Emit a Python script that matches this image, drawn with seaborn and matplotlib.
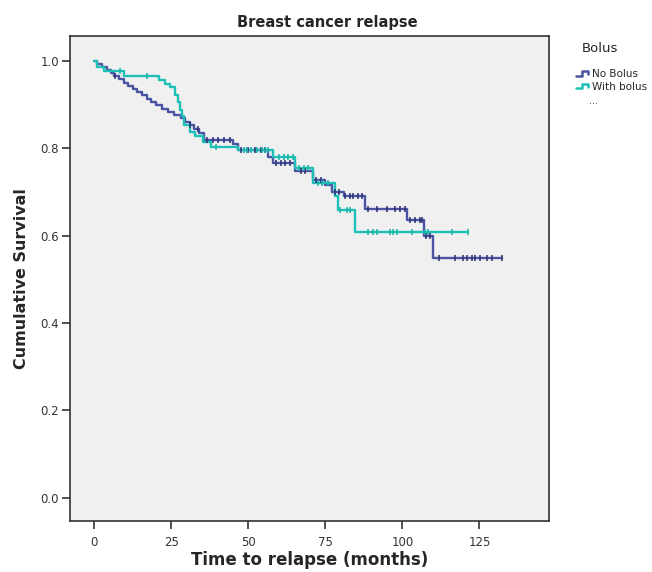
import numpy as np
import pandas as pd
import seaborn as sns
import matplotlib
matplotlib.use('Agg')
import matplotlib.pyplot as plt
from matplotlib.lines import Line2D
from matplotlib.legend_handler import HandlerBase

# Kaplan-Meier steps (time in months, survival after the step)
nb_time = [0, 1, 2.5, 4, 5.5, 6.5, 8, 9.5, 11, 12.5, 14, 15.5, 17, 18.5, 20, 22, 24, 26,
           28, 29.5, 31, 32.5, 34, 35.5, 45, 46.5, 56.4, 58, 65, 71, 75, 77, 81, 88,
           101.5, 107, 110, 132.5]
nb_surv = [1.0, 0.994, 0.987, 0.979, 0.972, 0.965, 0.958, 0.950, 0.943, 0.936, 0.929,
           0.921, 0.913, 0.906, 0.898, 0.890, 0.883, 0.876, 0.869, 0.861, 0.853, 0.845,
           0.836, 0.819, 0.810, 0.797, 0.781, 0.766, 0.747, 0.728, 0.715, 0.701, 0.691,
           0.661, 0.636, 0.600, 0.548, 0.548]

wb_time = [0, 1, 3, 9.5, 21, 23, 24.6, 26.2, 27.3, 27.8, 28.4, 29, 31, 32.7, 35.4, 38,
           46.5, 58, 65, 71, 78.2, 79, 84.6, 121.4]
wb_surv = [1.0, 0.987, 0.978, 0.965, 0.956, 0.948, 0.941, 0.922, 0.907, 0.888, 0.873,
           0.853, 0.838, 0.827, 0.815, 0.804, 0.797, 0.781, 0.754, 0.720, 0.690, 0.659,
           0.608, 0.608]

# censored observations
nb_cens = [6.7, 31, 33.5, 36.5, 38.5, 40, 42, 44, 47.5, 50, 52, 54, 55.5, 59, 60.5, 62,
           63.5, 67, 68.5, 72, 73.5, 78, 79.5, 81.4, 83, 84.1, 85.7, 86.8, 89, 91.7, 94.9,
           97.6, 99.3, 100.9, 102.5, 104.1, 105.7, 106.3, 107.8, 109, 112, 117.1, 119.8,
           120.9, 122.5, 123.6, 125.2, 127.4, 129, 132.3]
wb_cens = [8.4, 17, 39.5, 48.5, 49.5, 51, 52.7, 54.3, 55.4, 56.5, 60, 61.5, 63, 64.5,
           66.5, 68, 69.5, 72.5, 74, 76, 79.8, 81.9, 83, 89, 90.6, 91.7, 96, 97.1, 98.2,
           103, 107.4, 108.4, 116, 121.4]

x_ticks = [0, 25, 50, 75, 100, 125]
y_ticks = [0.0, 0.2, 0.4, 0.6, 0.8, 1.0]

groups = ['No Bolus', 'With bolus']
colors = {'No Bolus': '#4a54a3', 'With bolus': '#1cc0b6'}
cens_colors = {'No Bolus': '#2c2e72', 'With bolus': '#17b3a9'}

df = pd.concat([
    pd.DataFrame({'time': nb_time, 'surv': nb_surv, 'group': 'No Bolus'}),
    pd.DataFrame({'time': wb_time, 'surv': wb_surv, 'group': 'With bolus'}),
])


def surv_at(times, survs, t):
    i = np.searchsorted(times, t, side='right') - 1
    return survs[max(i, 0)]


sns.set_style('ticks')
plt.rcParams['font.family'] = ['DejaVu Sans']

fig = plt.figure(figsize=(6.52, 5.72), dpi=100)
ax = fig.add_axes([70/652, 1-521/572, 479/652, 485/572])
ax.set_facecolor('#f0f0f0')

sns.lineplot(data=df, x='time', y='surv', hue='group', palette=colors,
             drawstyle='steps-post', estimator=None, sort=False, legend=False,
             linewidth=1.7, ax=ax)

for g, tt, ss, cc in [('No Bolus', nb_time, nb_surv, nb_cens),
                      ('With bolus', wb_time, wb_surv, wb_cens)]:
    ys = [surv_at(tt, ss, t) for t in cc]
    ax.plot(cc, ys, linestyle='none', marker='|', markersize=5, mew=1.1,
            color=cens_colors[g])

ax.set_xlim(-7.9, 147.6)
ax.set_ylim(-0.053, 1.057)
ax.set_xticks(x_ticks)
ax.set_yticks(y_ticks)
ax.set_yticklabels([f'{v:.1f}' for v in y_ticks])
ax.tick_params(axis='both', which='major', direction='out', length=6, width=1.2,
               color='#333333', labelsize=8.5, labelcolor='#333333')
ax.tick_params(axis='x', pad=5)
ax.tick_params(axis='y', pad=2)
for s in ax.spines.values():
    s.set_color('#333333')
    s.set_linewidth(1.2)

ax.set_xlabel('Time to relapse (months)', fontsize=12, fontweight='bold', labelpad=1)
ax.set_ylabel('Cumulative Survival', fontsize=11.5, fontweight='bold', labelpad=8)
fig.text(327/652, 1-22/572, 'Breast cancer relapse', ha='center', va='center',
         fontsize=10.5, fontweight='bold')


class StepHandler(HandlerBase):
    def create_artists(self, legend, orig_handle, xdescent, ydescent, width, height,
                       fontsize, trans):
        xs = np.array([0, 0.45, 0.45, 0.9, 0.9]) * width - xdescent
        ys = np.array([0.2, 0.2, 0.8, 0.8, 0.45]) * height - ydescent
        ln = Line2D(xs, ys, color=orig_handle.get_color(), lw=1.8, transform=trans)
        return [ln]


handles = [Line2D([], [], color=colors[g]) for g in groups]
fig.text(600/652, 1-49/572, 'Bolus', ha='center', va='center', fontsize=9.5)
leg = fig.legend(handles, groups, loc='upper left',
                 bbox_to_anchor=(571/652, 1-64/572), frameon=False, fontsize=7.5,
                 handlelength=1.3, handletextpad=0.2, labelspacing=0.25, borderpad=0,
                 handler_map={Line2D: StepHandler()})
fig.text(593/652, 1-101/572, '...', ha='center', va='center', fontsize=7, color='#444444')

fig.savefig('out.png', dpi=100)
